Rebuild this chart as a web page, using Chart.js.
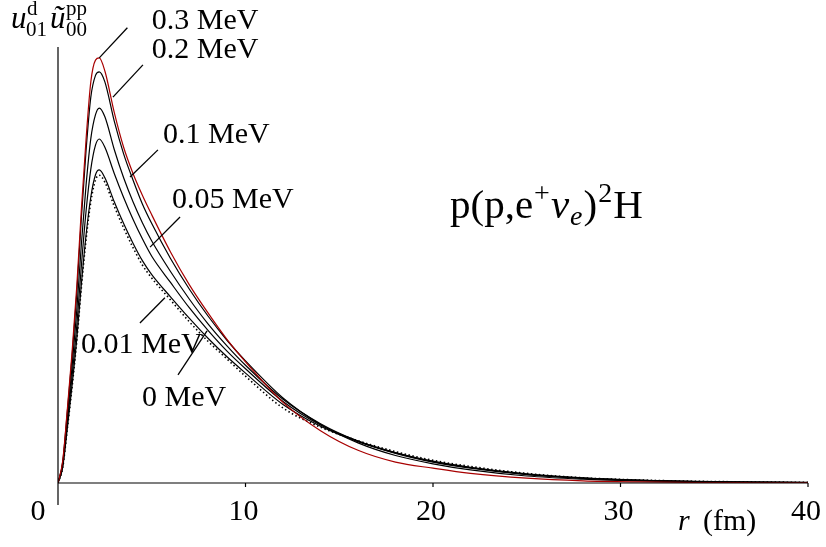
<!DOCTYPE html>
<html>
<head>
<meta charset="utf-8">
<script src="https://cdn.jsdelivr.net/npm/chart.js@4.4.1/dist/chart.umd.min.js"></script>
<style>
  html, body { margin: 0; padding: 0; background: #fff; }
  #contenedor { width: 826px; height: 547px; }
</style>
</head>
<body>
<div id="contenedor"><canvas id="graficoOnda"></canvas></div>
<script>
// radio r (fm)
var radios = [0, 0.25, 0.5, 0.75, 1, 1.25, 1.5, 1.75, 2, 2.2, 2.5, 3, 3.5, 4, 4.5, 5, 6, 7, 8, 9, 10, 12, 14, 16, 18, 20, 22, 25, 28, 31, 34, 37, 40];

// u01^d * u00^pp para cada energia
var onda03 = [0, 0.05, 0.17, 0.30, 0.45, 0.63, 0.79, 0.92, 0.97, 0.975, 0.945, 0.85, 0.77, 0.71, 0.66, 0.615, 0.53, 0.455, 0.39, 0.33, 0.278, 0.185, 0.12, 0.075, 0.048, 0.034, 0.022, 0.011, 0.005, 0.0025, 0.0012, 0.0006, 0.0003];
var onda02 = [0, 0.048, 0.165, 0.29, 0.435, 0.61, 0.765, 0.885, 0.935, 0.943, 0.92, 0.83, 0.755, 0.695, 0.64, 0.595, 0.515, 0.445, 0.383, 0.328, 0.28, 0.195, 0.134, 0.092, 0.063, 0.044, 0.03, 0.016, 0.0088, 0.0048, 0.0026, 0.0014, 0.0008];
var onda01 = [0, 0.044, 0.152, 0.267, 0.395, 0.55, 0.685, 0.79, 0.845, 0.86, 0.84, 0.765, 0.70, 0.645, 0.597, 0.555, 0.485, 0.422, 0.365, 0.315, 0.27, 0.192, 0.136, 0.096, 0.068, 0.048, 0.034, 0.019, 0.0105, 0.0058, 0.0032, 0.0018, 0.001];
var onda005 = [0, 0.04, 0.14, 0.245, 0.36, 0.5, 0.625, 0.72, 0.775, 0.789, 0.77, 0.71, 0.655, 0.605, 0.56, 0.52, 0.46, 0.402, 0.35, 0.303, 0.262, 0.187, 0.133, 0.096, 0.069, 0.049, 0.035, 0.02, 0.011, 0.006, 0.0034, 0.002, 0.0012];
var onda001 = [0, 0.036, 0.127, 0.224, 0.33, 0.458, 0.57, 0.656, 0.707, 0.718, 0.70, 0.645, 0.595, 0.55, 0.51, 0.478, 0.427, 0.378, 0.332, 0.29, 0.252, 0.18, 0.13, 0.095, 0.07, 0.05, 0.036, 0.021, 0.012, 0.0065, 0.0037, 0.0022, 0.0013];
var onda0 = [0, 0.035, 0.125, 0.22, 0.325, 0.45, 0.56, 0.645, 0.695, 0.706, 0.69, 0.635, 0.585, 0.54, 0.5, 0.47, 0.42, 0.37, 0.325, 0.285, 0.245, 0.172, 0.128, 0.097, 0.072, 0.052, 0.038, 0.022, 0.012, 0.007, 0.004, 0.0025, 0.0015];

// etiquetas del eje x
var ticksX = [0, 10, 20, 30, 40];

var energias = ["0.3 MeV", "0.2 MeV", "0.1 MeV", "0.05 MeV", "0.01 MeV", "0 MeV"];

var fuente = '"Liberation Serif", "Times New Roman", serif';

function puntos(valores) {
  return radios.map(function(r, i) { return { x: r, y: valores[i] }; });
}

function serie(etiqueta, valores, color, punteada) {
  return {
    label: etiqueta,
    data: puntos(valores),
    borderColor: color,
    borderWidth: punteada ? 1.6 : 1.2,
    borderDash: punteada ? [1.5, 2.5] : [],
    pointRadius: 0,
    fill: false,
    cubicInterpolationMode: 'monotone'
  };
}

// etiquetas de energia: texto (r, valor) y linea indicadora
var notas = [
  { texto: energias[0], tx: 5.0, ty: 1.041, l: [3.7, 1.044, 2.2, 0.975] },
  { texto: energias[1], tx: 5.0, ty: 0.975, l: [4.53, 0.959, 2.93, 0.885] },
  { texto: energias[2], tx: 5.6, ty: 0.78, l: [5.33, 0.764, 3.84, 0.702] },
  { texto: energias[3], tx: 6.08, ty: 0.631, l: [6.51, 0.61, 4.91, 0.541] },
  { texto: energias[4], tx: 1.23, ty: 0.298, l: [4.37, 0.367, 5.7, 0.425] },
  { texto: energias[5], tx: 4.48, ty: 0.177, l: [6.4, 0.248, 7.95, 0.349] }
];

var plugAnotaciones = {
  id: 'anotaciones',
  afterDraw: function(chart) {
    var ctx = chart.ctx;
    var sx = chart.scales.x;
    var sy = chart.scales.y;
    var x0 = sx.getPixelForValue(0);
    var y0 = sy.getPixelForValue(0);
    ctx.save();
    ctx.strokeStyle = '#000';
    ctx.fillStyle = '#000';
    ctx.lineWidth = 1.2;

    // ejes
    ctx.beginPath();
    ctx.moveTo(x0, y0);
    ctx.lineTo(sx.getPixelForValue(40), y0);
    ctx.moveTo(x0, sy.getPixelForValue(1));
    ctx.lineTo(x0, y0 + 22);
    ctx.stroke();

    // marcas y numeros del eje x
    ctx.font = '30px ' + fuente;
    ctx.textBaseline = 'alphabetic';
    ctx.textAlign = 'center';
    ticksX.forEach(function(t) {
      var px = sx.getPixelForValue(t);
      if (t > 0) {
        ctx.beginPath();
        ctx.moveTo(px, y0);
        ctx.lineTo(px, y0 + 4);
        ctx.stroke();
        ctx.fillText(String(t), px - 2, y0 + 37);
      } else {
        ctx.fillText(String(t), px - 20, y0 + 37);
      }
    });

    // titulo eje x
    ctx.textAlign = 'left';
    ctx.font = 'italic 30px ' + fuente;
    ctx.fillText('r', 678, 530);
    ctx.font = '30px ' + fuente;
    ctx.fillText('(fm)', 703, 530);

    // titulo eje y
    ctx.font = 'italic 31px ' + fuente;
    ctx.fillText('u', 11, 28);
    ctx.fillText('\u0169', 50, 28);
    ctx.font = '21px ' + fuente;
    ctx.fillText('d', 27, 15);
    ctx.fillText('01', 26, 36);
    ctx.fillText('pp', 66, 15);
    ctx.fillText('00', 66, 36);

    // lineas indicadoras y textos de energia
    ctx.lineWidth = 1.3;
    notas.forEach(function(n) {
      ctx.beginPath();
      ctx.moveTo(sx.getPixelForValue(n.l[0]), sy.getPixelForValue(n.l[1]));
      ctx.lineTo(sx.getPixelForValue(n.l[2]), sy.getPixelForValue(n.l[3]));
      ctx.stroke();
      ctx.font = '30px ' + fuente;
      ctx.fillText(n.texto, sx.getPixelForValue(n.tx), sy.getPixelForValue(n.ty));
    });

    // reaccion p(p,e+ nu_e)2H
    var x = 450, y = 218;
    var trozos = [
      ['p(p,e', '41px', 0],
      ['+', '28px', -16],
      ['\u03bd', 'italic 41px', 0],
      ['e', 'italic 28px', 7],
      [')', '41px', 0],
      ['2', '28px', -16],
      ['H', '41px', 0]
    ];
    trozos.forEach(function(tz) {
      ctx.font = tz[1] + ' ' + fuente;
      ctx.fillText(tz[0], x, y + tz[2]);
      x += ctx.measureText(tz[0]).width + 1;
    });

    ctx.restore();
  }
};

var graficoOnda = new Chart(document.getElementById('graficoOnda').getContext('2d'), {
  type: 'line',
  data: {
    datasets: [
      serie(energias[0], onda03, '#a80000', false),
      serie(energias[1], onda02, '#000', false),
      serie(energias[2], onda01, '#000', false),
      serie(energias[3], onda005, '#000', false),
      serie(energias[4], onda001, '#000', false),
      serie(energias[5], onda0, '#000', true)
    ]
  },
  options: {
    responsive: true,
    maintainAspectRatio: false,
    animation: false,
    layout: { padding: { left: 58, right: 18, top: 47, bottom: 64 } },
    plugins: {
      legend: { display: false },
      tooltip: { enabled: false }
    },
    scales: {
      x: { type: 'linear', min: 0, max: 40, display: false },
      y: { type: 'linear', min: 0, max: 1, display: false }
    }
  },
  plugins: [plugAnotaciones]
});
</script>
</body>
</html>
